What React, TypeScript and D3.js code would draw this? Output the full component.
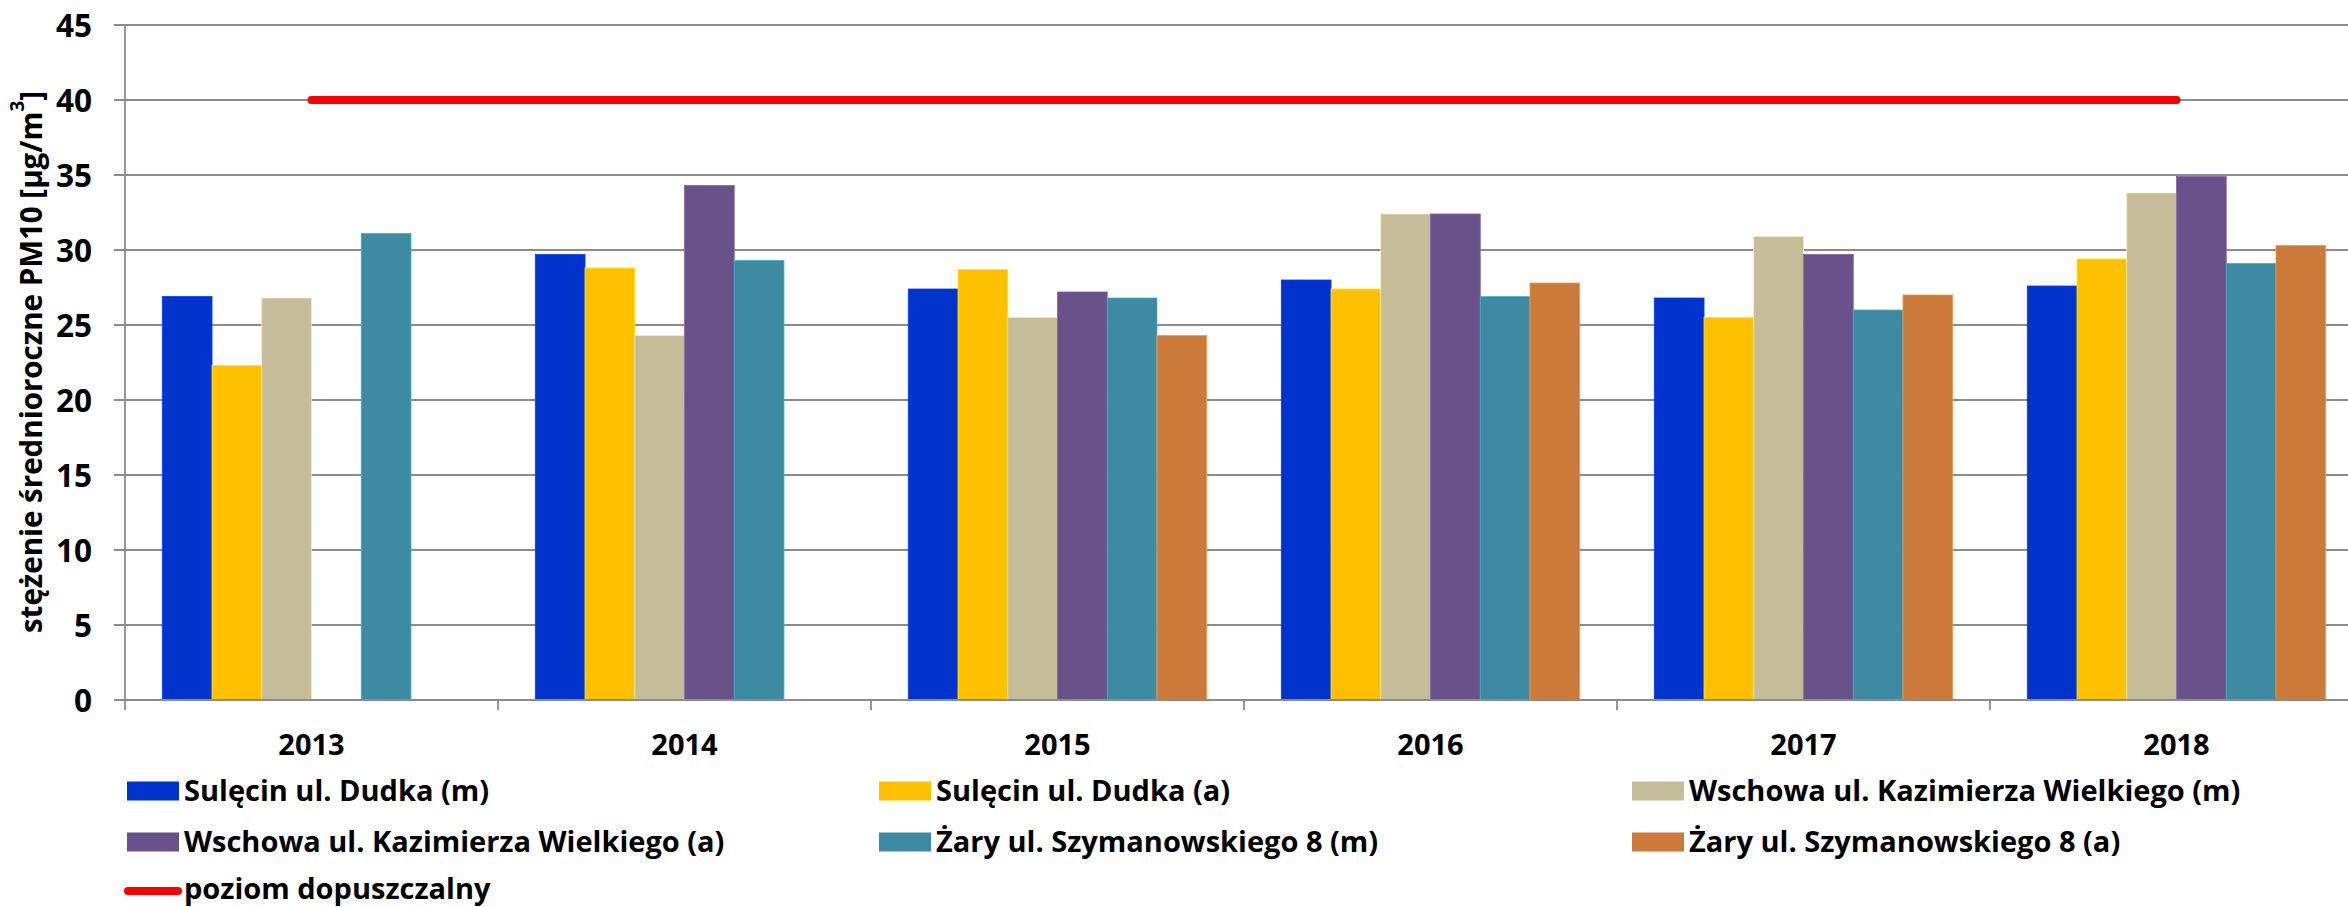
import React from "react";
import * as d3 from "d3";

const years = ["2013", "2014", "2015", "2016", "2017", "2018"];
const seriesNames = [
  "Sulęcin ul. Dudka (m)",
  "Sulęcin ul. Dudka (a)",
  "Wschowa ul. Kazimierza Wielkiego (m)",
  "Wschowa ul. Kazimierza Wielkiego (a)",
  "Żary ul. Szymanowskiego 8 (m)",
  "Żary ul. Szymanowskiego 8 (a)",
];
const sulecinM = [26.9, 29.7, 27.4, 28.0, 26.8, 27.6];
const sulecinA = [22.3, 28.8, 28.7, 27.4, 25.5, 29.4];
const wschowaM = [26.8, 24.3, 25.5, 32.4, 30.9, 33.8];
const wschowaA = [null, 34.3, 27.2, 32.4, 29.7, 34.9];
const zaryM = [31.1, 29.3, 26.8, 26.9, 26.0, 29.1];
const zaryA = [null, null, 24.3, 27.8, 27.0, 30.3];
const limitValues = [40, 40, 40, 40, 40, 40];
const limitName = "poziom dopuszczalny";
const yTicks = [0, 5, 10, 15, 20, 25, 30, 35, 40, 45];
const yTitle = "stężenie średnioroczne PM10 [µg/m";

const seriesValues: (number | null)[][] = [sulecinM, sulecinA, wschowaM, wschowaA, zaryM, zaryA];
const colors = ["#0033CC", "#FFC000", "#C4BD97", "#69518A", "#3D8BA3", "#CC7A39"];

const W = 2348;
const H = 907;
const FONT = "'Open Sans', Lato, sans-serif";

export default function App() {
  const left = 125;
  const catW = 373;
  const x = d3.scaleBand<string>().domain(years).range([left, left + catW * years.length]).padding(0);
  const xs = d3
    .scaleBand<number>()
    .domain(d3.range(seriesNames.length))
    .range([0, x.bandwidth()])
    .paddingInner(0)
    .paddingOuter(0.75);
  const y = d3.scaleLinear().domain([0, 45]).range([700, 25]);

  const line = d3
    .line<number>()
    .x((_, i) => (x(years[i]) as number) + x.bandwidth() / 2)
    .y((d) => y(d));

  const legendCols = [127, 879, 1632];
  const legendRows = [791, 842, 891];

  return (
    <svg width={W} height={H} style={{ position: "absolute", left: 0, top: 0, background: "#fff" }} fontFamily={FONT}>
      <rect x={0} y={0} width={W} height={H} fill="#fff" />
      {yTicks.map((t) => (
        <line key={t} x1={114} x2={W} y1={y(t)} y2={y(t)} stroke="#8c8c8c" strokeWidth={1.8} />
      ))}
      {years.map((yr, i) => (
        <g key={yr} transform={`translate(${x(yr)},0)`}>
          {seriesValues.map((vals, s) => {
            const v = vals[i];
            if (v == null) return null;
            const c = d3.color(colors[s])!.brighter(0.6).formatHex();
            return (
              <rect
                key={s}
                x={xs(s)}
                y={y(v)}
                width={xs.bandwidth()}
                height={y(0) - y(v)}
                fill={colors[s]}
                stroke={c}
                strokeWidth={0.8}
              />
            );
          })}
        </g>
      ))}
      <line x1={left} x2={left} y1={25} y2={700} stroke="#8c8c8c" strokeWidth={1.8} />
      <line x1={114} x2={W} y1={700} y2={700} stroke="#8c8c8c" strokeWidth={1.8} />
      {d3.range(years.length + 1).map((i) => (
        <line
          key={i}
          x1={left + i * catW}
          x2={left + i * catW}
          y1={700}
          y2={710}
          stroke="#8c8c8c"
          strokeWidth={1.8}
        />
      ))}
      <path d={line(limitValues) || ""} stroke="#FF0000" strokeWidth={8} strokeLinecap="round" fill="none" />
      {yTicks.map((t) => (
        <text
          key={t}
          x={92}
          y={y(t) + 11.5}
          textAnchor="end"
          fontSize={31.5}
          fontWeight={700}
          fill="#000"
        >
          {t}
        </text>
      ))}
      {years.map((yr) => (
        <text
          key={yr}
          x={(x(yr) as number) + x.bandwidth() / 2}
          y={755}
          textAnchor="middle"
          fontSize={29}
          fontWeight={700}
          fill="#000"
        >
          {yr}
        </text>
      ))}
      <text
        transform={`translate(30,362) rotate(-90)`}
        textAnchor="middle"
        dominantBaseline="central"
        fontSize={29.5}
        fontWeight={700}
        fill="#000"
      >
        {yTitle}
        <tspan baselineShift="super" fontSize={19}>3</tspan>]
      </text>
      {seriesNames.map((n, s) => {
        const col = legendCols[s % 3];
        const row = legendRows[Math.floor(s / 3)];
        return (
          <g key={n}>
            <rect x={col} y={row - 9.5} width={52} height={19} fill={colors[s]} />
            <text x={col + 57} y={row + 10} fontSize={29} fontWeight={700} fill="#000">
              {n}
            </text>
          </g>
        );
      })}
      <line x1={128} x2={178} y1={legendRows[2]} y2={legendRows[2]} stroke="#FF0000" strokeWidth={8} strokeLinecap="round" />
      <text x={184} y={legendRows[2] + 8} fontSize={29} fontWeight={700} fill="#000">
        {limitName}
      </text>
    </svg>
  );
}
